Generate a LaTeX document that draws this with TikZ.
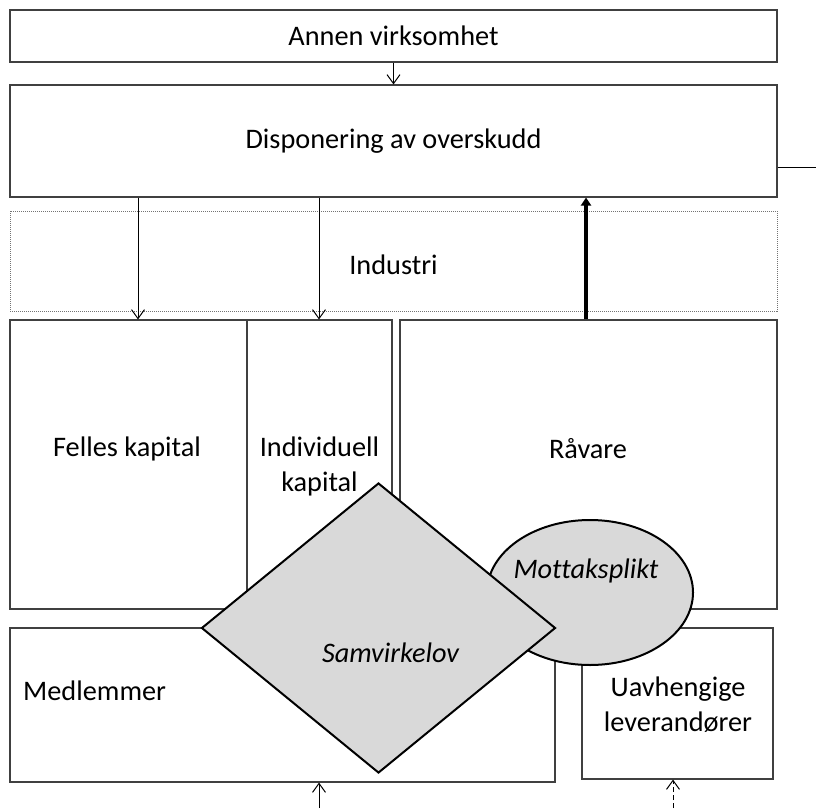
\documentclass[tikz,border=0pt]{standalone}
\usepackage{fontspec}
\setmainfont{Carlito}[Ligatures={NoCommon}]
\usetikzlibrary{shapes.geometric,arrows.meta}
\definecolor{boxline}{HTML}{404040}
\definecolor{shade}{HTML}{D9D9D9}
\begin{document}
\begin{tikzpicture}[x=1pt,y=-1pt,
  every node/.style={font=\fontsize{28.3}{35}\selectfont},
  box/.style={draw=boxline,line width=1.1pt,rectangle,inner sep=0pt},
  dotbox/.style={draw=black!55,densely dotted,line width=1pt,rectangle,inner sep=0pt},
  arr/.style={line width=1pt,-{Straight Barb[length=9pt,width=13pt]}},
  thickarr/.style={line width=4pt,-{Triangle[length=8pt,width=10pt]}},
  lbl/.style={align=center,inner sep=0pt}]
\useasboundingbox (0,0) rectangle (816,808);
% boxes
\node[box,minimum width=767pt,minimum height=52pt] (annen) at (393.5,36) {Annen virksomhet};
\node[box,minimum width=767pt,minimum height=112pt] (disp) at (393.5,141) {Disponering av overskudd};
\node[dotbox,minimum width=767pt,minimum height=100pt] (ind) at (393.5,261) {};
\node[lbl] at ([yshift=-4pt]ind.center) {Industri};
\node[box,minimum width=237pt,minimum height=289pt] (felles) at (128.5,464.5) {};
\node[box,minimum width=145pt,minimum height=289pt] (indiv) at (319.5,464.5) {};
\node[box,minimum width=377pt,minimum height=289pt] (raav) at (588.5,464.5) {};
\node[box,minimum width=545pt,minimum height=154pt] (medl) at (282.5,705) {};
\node[box,minimum width=191pt,minimum height=151pt] (uavh) at (677.5,703.5) {};
% ellipse and diamond
\node[ellipse,draw=black,line width=2pt,fill=shade,minimum width=206pt,minimum height=145pt,inner sep=0pt] (mott) at (590,592.5) {};
\node[diamond,draw=black,line width=2pt,fill=shade,minimum width=354pt,minimum height=290pt,inner sep=0pt,aspect=1.22] (samv) at (378.5,628) {};
% texts
\node[lbl] (tfelles) at (127,449) {Felles kapital};
\node[lbl] (tindiv) at (319.5,466) {Individuell\\kapital};
\node[lbl] (traav) at (588,449) {Råvare};
\node[lbl,anchor=west] (tmedl) at (23,691) {Medlemmer};
\node[lbl] (tuavh) at (678,705) {Uavhengige\\leverandører};
\node[lbl] at ([xshift=-4pt,yshift=22pt]mott.center) {\itshape Mottaksplikt};
\node[lbl] at ([xshift=12pt,yshift=-25pt]samv.center) {\itshape Samvirkelov};
% coordinates
\coordinate (c1) at (138,0);
\coordinate (c2) at (319,0);
\coordinate (c3) at (586,0);
\coordinate (rend) at (816,167);
\coordinate (b1) at (319,808);
\coordinate (b2) at (673,808);
% connectors
\draw[arr] (annen.south) -- (disp.north);
\draw[arr] (disp.south -| c1) -- (felles.north -| c1);
\draw[arr] (disp.south -| c2) -- (indiv.north -| c2);
\draw[thickarr] (raav.north -| c3) -- (disp.south -| c3);
\draw[line width=1pt] (disp.east |- rend) -- (rend);
\draw[arr] (b1) -- (medl.south -| b1);
\draw[arr,dash pattern=on 5pt off 3pt] (b2) -- (uavh.south -| b2);
\end{tikzpicture}
\end{document}
